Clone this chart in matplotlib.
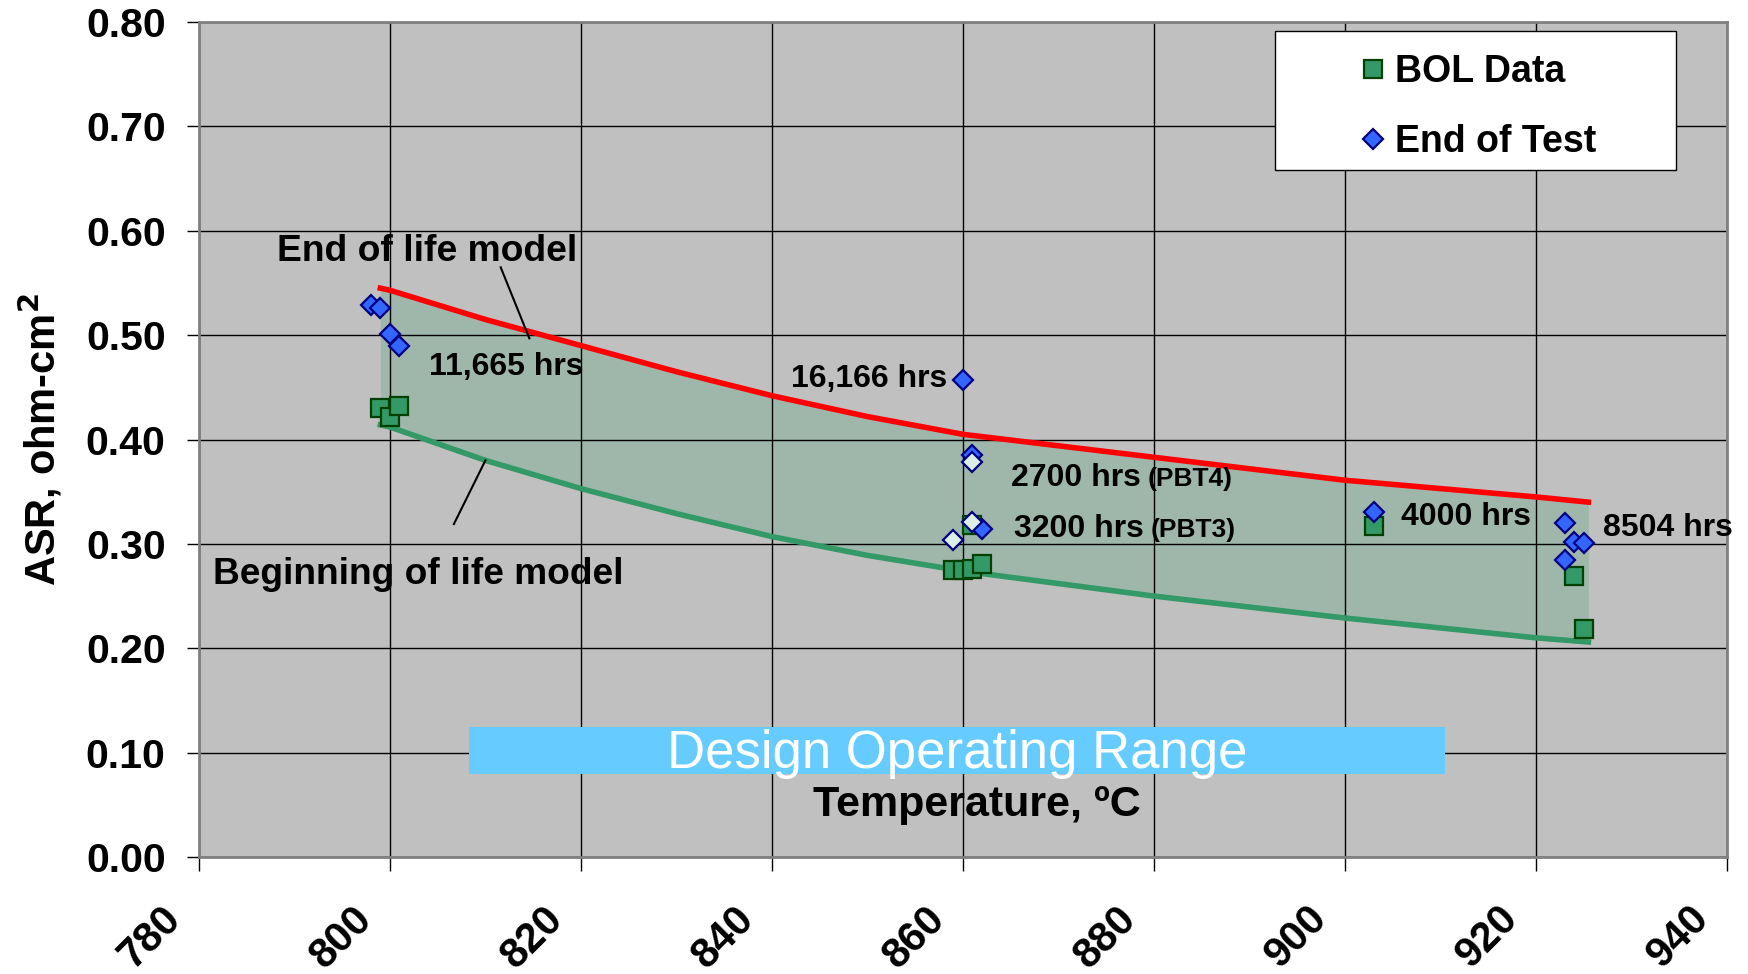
import numpy as np
import matplotlib.pyplot as plt
from matplotlib.patches import Rectangle
from matplotlib.transforms import ScaledTranslation

plt.rcParams['font.family'] = ['Liberation Sans', 'DejaVu Sans']
plt.rcParams['font.weight'] = 'bold'

# model curves (ASR vs temperature)
model_temp = [799, 800, 810, 820, 830, 840, 850, 860, 880, 900, 920, 925.5]
eol_model = [0.545, 0.543, 0.515, 0.490, 0.465, 0.442, 0.422, 0.405, 0.383, 0.361, 0.345, 0.340]
bol_model = [0.414, 0.412, 0.380, 0.353, 0.329, 0.307, 0.289, 0.274, 0.250, 0.229, 0.210, 0.206]

# beginning of life measurements
bol_temp = [799, 800, 801, 861, 859, 860, 861, 862, 903, 924, 925]
bol_asr = [0.430, 0.422, 0.432, 0.318, 0.275, 0.275, 0.276, 0.281, 0.317, 0.269, 0.218]

# end of test measurements
eot_temp = [798, 799, 800, 801, 860, 861, 862, 903, 923, 924, 925, 923]
eot_asr = [0.529, 0.526, 0.501, 0.490, 0.457, 0.385, 0.314, 0.331, 0.320, 0.302, 0.301, 0.285]

# end of test, open symbols
eot2_temp = [861, 861, 859]
eot2_asr = [0.378, 0.321, 0.304]

xticks = [780, 800, 820, 840, 860, 880, 900, 920, 940]
yticks = [0.0, 0.1, 0.2, 0.3, 0.4, 0.5, 0.6, 0.7, 0.8]

fig = plt.figure(figsize=(17.48, 9.74), dpi=100)
ax = fig.add_axes([0.1138, 0.1201, 0.8741, 0.8573])
ax.set_facecolor('#C0C0C0')
ax.set_xlim(780, 940)
ax.set_ylim(0, 0.8)
ax.set_xticks(xticks)
ax.set_yticks(yticks)
ax.set_yticklabels(['%.2f' % v for v in yticks])
ax.set_axisbelow('line')
ax.grid(True, color='black', lw=1)
for s in ax.spines.values():
    s.set_color('#808080')
    s.set_linewidth(2)
ax.tick_params(axis='y', length=9, width=1, pad=15, labelsize=29.5)
ax.tick_params(axis='x', length=10, width=1, pad=30, labelsize=30)
for lab in ax.get_xticklabels():
    lab.set_rotation(45)
    lab.set_ha('right')
    lab.set_va('center')
    lab.set_rotation_mode('anchor')
    lab.set_transform(lab.get_transform() + ScaledTranslation(-0.24, 0, fig.dpi_scale_trans))

ax.set_ylabel('ASR, ohm-cm$^\\mathbf{2}$', fontsize=30, fontweight='bold')
ax.yaxis.set_label_coords(-0.088, 0.5)

ax.fill_between(model_temp, bol_model, eol_model, color='#339966', alpha=0.23, lw=0)
ax.plot(model_temp, eol_model, color='#FF0000', lw=4)
ax.plot(model_temp, bol_model, color='#339966', lw=4)

ax.plot(bol_temp, bol_asr, 's', ms=13, mfc='#339966', mec='#004000', mew=1.6,
        label='BOL Data', zorder=4)
ax.plot(eot_temp, eot_asr, 'D', ms=10, mfc='#3366FF', mec='#000080', mew=1.6,
        label='End of Test', zorder=5)
ax.plot(eot2_temp, eot2_asr, 'D', ms=10, mfc='#DDEEE4', mec='#000080', mew=1.6,
        zorder=6)

# design range bar
ax.add_patch(Rectangle((808.3, 0.08), 102.2, 0.045, facecolor='#66CCFF', lw=0, zorder=3))
ax.text(859.4, 0.099, 'Design Operating Range', color='white', fontsize=38,
        fontweight='normal', ha='center', va='center', zorder=4)
ax.text(861.5, 0.05, 'Temperature, ºC', fontsize=31, ha='center', va='center', zorder=4)

# model labels
ax.text(788.2, 0.580, 'End of life model', fontsize=26.8, va='center')
ax.plot([811.6, 814.6], [0.565, 0.497], color='black', lw=1.5)
ax.text(781.5, 0.271, 'Beginning of life model', fontsize=26.7, va='center')
ax.plot([806.7, 810.0], [0.319, 0.380], color='black', lw=1.5)

# test duration labels
ax.text(804.1, 0.469, '11,665 hrs', fontsize=23, va='center')
ax.text(858.4, 0.458, '16,166 hrs', fontsize=23, va='center', ha='right')
ax.text(865.0, 0.355, '2700 hrs', fontsize=23, va='baseline')
ax.text(879.3, 0.355, '(PBT4)', fontsize=19, va='baseline')
ax.text(865.4, 0.307, '3200 hrs', fontsize=23, va='baseline')
ax.text(879.7, 0.307, '(PBT3)', fontsize=19, va='baseline')
ax.text(905.9, 0.318, '4000 hrs', fontsize=23, va='baseline')
ax.text(927.0, 0.308, '8504 hrs', fontsize=23, va='baseline', clip_on=False)

# legend
ax.add_patch(Rectangle((0.7044, 0.823), 0.2626, 0.166, transform=ax.transAxes,
                       facecolor='white', edgecolor='black', lw=1, zorder=7))
leg = ax.legend(loc='center left', bbox_to_anchor=(0.756, 0.8985), frameon=False,
                fontsize=27, handlelength=1.0, handletextpad=0.1, borderpad=0,
                borderaxespad=0, labelspacing=0.9)
leg.set_zorder(8)

fig.savefig('out.png', dpi=100)
